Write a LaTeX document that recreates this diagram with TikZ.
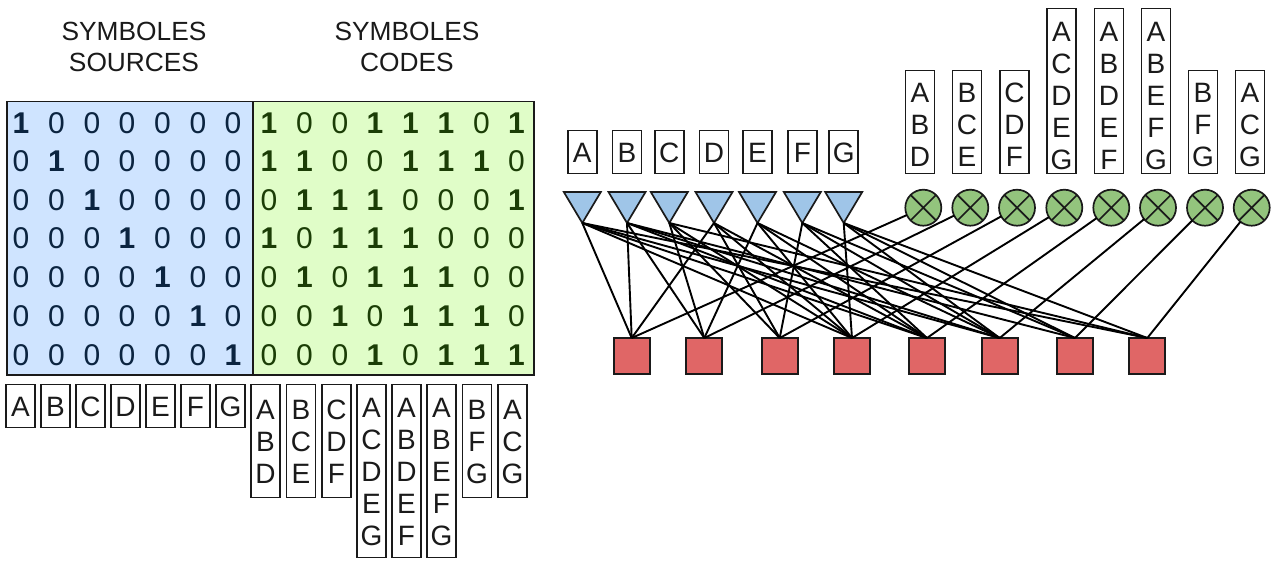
\documentclass[tikz,border=0pt]{standalone}
\usepackage{fontspec}
\setmainfont{Liberation Sans}
\usetikzlibrary{shapes.geometric}
\definecolor{srcfill}{HTML}{CFE4FF}
\definecolor{codefill}{HTML}{E0FDC8}
\definecolor{trifill}{HTML}{9FC5E8}
\definecolor{xorfill}{HTML}{93C47D}
\definecolor{checkfill}{HTML}{E06666}
\definecolor{srcink}{HTML}{0B2440}
\definecolor{codeink}{HTML}{1B3D06}
\definecolor{inkline}{HTML}{1A1A1A}
\newcommand\padL{\rule{0pt}{21pt}}
\newcommand\padA{\rule{0pt}{22.5pt}}
\newcommand\padB{\rule{0pt}{26.5pt}}
\newcommand\padC{\rule{0pt}{29pt}}
\newcommand\padE{\rule[-1pt]{0pt}{1pt}}
\tikzset{
  panel/.style={draw=inkline,line width=1.6pt,inner sep=0,outer sep=0,anchor=north west},
  lbox/.style={draw=inkline,line width=1.8pt,fill=white,inner sep=0,outer sep=0,minimum width=29pt,anchor=north,align=center,font=\fontsize{28}{32}\selectfont,text=inkline},
  lone/.style={lbox,minimum height=43pt},
  lthree/.style={lbox,minimum height=103pt},
  lfive/.style={lbox,minimum height=165pt},
  lowthree/.style={lbox,minimum height=113pt},
  lowfive/.style={lbox,minimum height=173pt},
  title/.style={align=center,font=\fontsize{26.3}{31.5}\selectfont,text=inkline,inner sep=0},
  digit/.style={inner sep=0,font=\fontsize{30}{30}\selectfont},
  tri/.style={draw=inkline,line width=1.7pt,fill=trifill,isosceles triangle,isosceles triangle stretches,shape border rotate=270,minimum width=37pt,minimum height=31pt,inner sep=0,outer sep=0,anchor=apex},
  xorg/.style={circle,draw=inkline,line width=1.7pt,fill=xorfill,minimum size=36pt,inner sep=0,outer sep=0,
    path picture={\draw[inkline,line width=1.7pt] (path picture bounding box.north west)--(path picture bounding box.south east)
      (path picture bounding box.north east)--(path picture bounding box.south west);}},
  check/.style={rectangle,draw=inkline,line width=2pt,fill=checkfill,minimum size=36pt,inner sep=0,outer sep=0},
  wire/.style={draw=black,line width=1.9pt}
}
\begin{document}
\begin{tikzpicture}[x=1pt,y=-1pt]
\useasboundingbox (0,0) rectangle (1276,560);
% titles
\node[title] (t_src) at (134,47) {SYMBOLES\\SOURCES};
\node[title] (t_code) at (407,47) {SYMBOLES\\CODES};
% matrix panels
\node[panel,fill=srcfill,minimum width=246pt,minimum height=273.5pt] (pa) at (7,101.5) {};
\node[panel,fill=codefill,minimum width=281pt,minimum height=273.5pt] (pb) at (253,101.5) {};
% matrix digits
\foreach \r/\y/\row in {1/123/{1,0,0,0,0,0,0},2/161.5/{0,1,0,0,0,0,0},3/200/{0,0,1,0,0,0,0},4/238.5/{0,0,0,1,0,0,0},5/277/{0,0,0,0,1,0,0},6/316/{0,0,0,0,0,1,0},7/355/{0,0,0,0,0,0,1}}{
  \foreach \v [count=\c] in \row {
    \pgfmathsetmacro\xx{{21,56.5,92,127,162.5,198,233}[\c-1]}
    \ifnum\v=1\relax
      \node[digit,text=srcink,font=\fontsize{30}{30}\selectfont\bfseries] (a\r\c) at (\xx,\y) {\v};
    \else
      \node[digit,text=srcink] (a\r\c) at (\xx,\y) {\v};
    \fi
  }
}
\foreach \r/\y/\row in {1/123/{1,0,0,1,1,1,0,1},2/161.5/{1,1,0,0,1,1,1,0},3/200/{0,1,1,1,0,0,0,1},4/238.5/{1,0,1,1,1,0,0,0},5/277/{0,1,0,1,1,1,0,0},6/316/{0,0,1,0,1,1,1,0},7/355/{0,0,0,1,0,1,1,1}}{
  \foreach \v [count=\c] in \row {
    \pgfmathsetmacro\xx{{269,304.5,340,375,410.5,446,481.5,516.5}[\c-1]}
    \ifnum\v=1\relax
      \node[digit,text=codeink,font=\fontsize{30}{30}\selectfont\bfseries] (b\r\c) at (\xx,\y) {\v};
    \else
      \node[digit,text=codeink] (b\r\c) at (\xx,\y) {\v};
    \fi
  }
}
% labels under the matrix
\foreach \n/\x/\t in {1/20.5/A,2/55.5/B,3/90.5/C,4/125.5/D,5/160.5/E,6/195.5/F,7/230.5/G}
  \node[lone] (la\n) at (\x,384.5) {\padA\t\padE};
\node[lowthree] (lb1) at (265.5,384.5) {\padL A\\B\\D\padE};
\node[lowthree] (lb2) at (301,384.5) {\padL B\\C\\E\padE};
\node[lowthree] (lb3) at (336.5,384.5) {\padL C\\D\\F\padE};
\node[lowfive] (lb4) at (371.5,384.5) {\padL A\\C\\D\\E\\G\padE};
\node[lowfive] (lb5) at (406.5,384.5) {\padL A\\B\\D\\E\\F\padE};
\node[lowfive] (lb6) at (441.5,384.5) {\padL A\\B\\E\\F\\G\padE};
\node[lowthree] (lb7) at (477,384.5) {\padL B\\F\\G\padE};
\node[lowthree] (lb8) at (512.5,384.5) {\padL A\\C\\G\padE};
% labels above the graph
\foreach \n/\x/\t in {1/582.3/A,2/627/B,3/669.3/C,4/714/D,5/757.5/E,6/802.3/F,7/843.7/G}
  \node[lone] (lt\n) at (\x,130.5) {\padA\t\padE};
\node[lthree] (lc1) at (920,70.5) {\padB A\\B\\D\padE};
\node[lthree] (lc2) at (967,70.5) {\padB B\\C\\E\padE};
\node[lthree] (lc3) at (1014.5,70.5) {\padB C\\D\\F\padE};
\node[lfive] (lc4) at (1061.5,8.5) {\padC A\\C\\D\\E\\G\padE};
\node[lfive] (lc5) at (1109,8.5) {\padC A\\B\\D\\E\\F\padE};
\node[lfive] (lc6) at (1156,8.5) {\padC A\\B\\E\\F\\G\padE};
\node[lthree] (lc7) at (1203,70.5) {\padB B\\F\\G\padE};
\node[lthree] (lc8) at (1250,70.5) {\padB A\\C\\G\padE};
% triangles, circles, squares
\foreach \n/\x in {1/582.3,2/627,3/669.3,4/714,5/757.5,6/802.3,7/843.7}
  \node[tri] (t\n) at (\x,223) {};
\foreach \n/\x in {1/923.3,2/970.3,3/1017,4/1064.3,5/1111.3,6/1158,7/1205,8/1251.7}
  \node[xorg] (c\n) at (\x,207.7) {};
\foreach \n/\x in {1/631.7,2/704.3,3/779.7,4/852,5/927,6/999.7,7/1075,8/1147.3}
  \node[check] (s\n) at (\x,356) {};
% connectors
\foreach \s/\t in {1/1,1/2,1/4,2/2,2/3,2/5,3/3,3/4,3/6,4/1,4/3,4/4,4/5,4/7,5/1,5/2,5/4,5/5,5/6,6/1,6/2,6/5,6/6,6/7,7/2,7/6,7/7,8/1,8/3,8/7}
  \draw[wire] (t\t.apex) -- (s\s.north);
\foreach \n in {1,...,8}
  \draw[wire] (c\n) -- (s\n.north);
\end{tikzpicture}
\end{document}
